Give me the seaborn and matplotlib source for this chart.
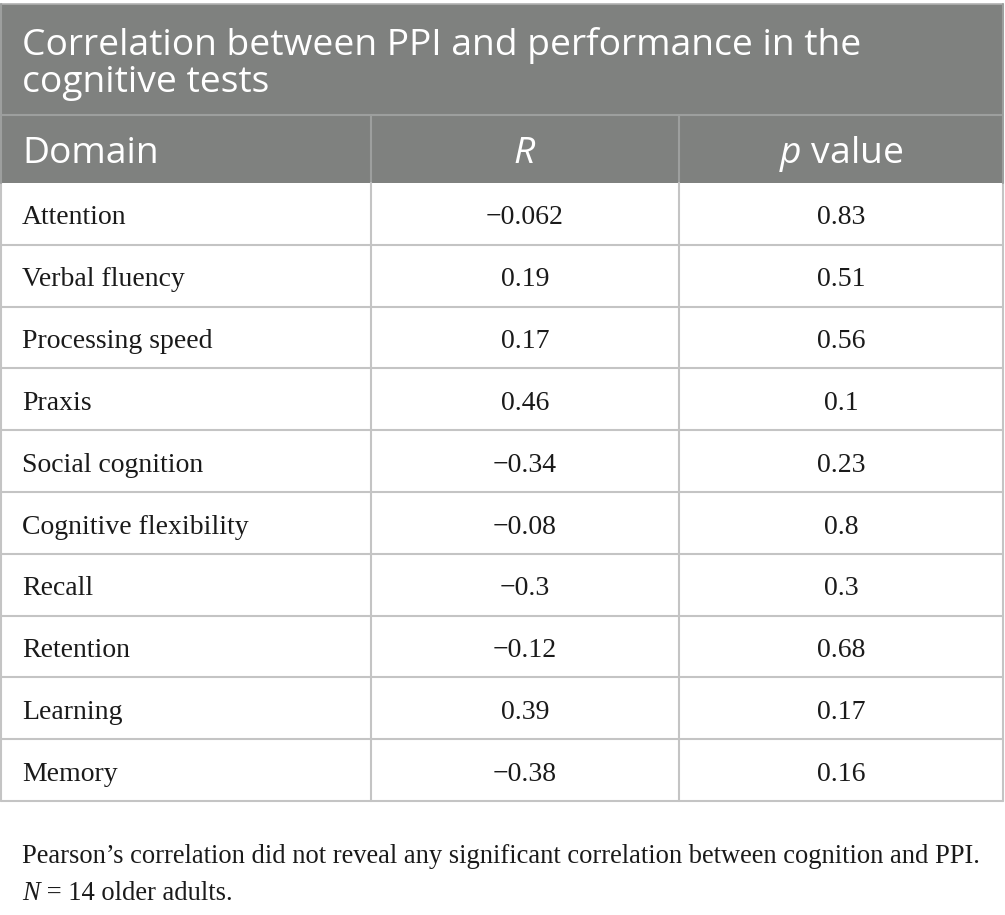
import matplotlib
matplotlib.use("Agg")
import matplotlib.pyplot as plt
import seaborn as sns

# table content
title_lines = ["Correlation between PPI and performance in the", "cognitive tests"]
col_headers = ["Domain", "$\\mathit{R}$", "$\\mathit{p}$ value"]
domains = ["Attention", "Verbal fluency", "Processing speed", "Praxis",
           "Social cognition", "Cognitive flexibility", "Recall", "Retention",
           "Learning", "Memory"]
r_values = ["\u22120.062", "0.19", "0.17", "0.46", "\u22120.34", "\u22120.08",
            "\u22120.3", "\u22120.12", "0.39", "\u22120.38"]
p_values = ["0.83", "0.51", "0.56", "0.1", "0.23", "0.8", "0.3", "0.68", "0.17", "0.16"]
footnote_1 = "Pearson\u2019s correlation did not reveal any significant correlation between cognition and PPI."
footnote_2 = ["N", " = 14 older adults."]

sns.set_theme(style="white")
plt.rcParams['mathtext.fontset'] = 'custom'
plt.rcParams['mathtext.it'] = 'Open Sans:italic'
plt.rcParams['mathtext.rm'] = 'Open Sans'

head_col = "#7f817f"
head_line = "#9d9f9e"
body_line = "#c4c4c4"
txt_col = "#1a1a1a"
font_head = "Open Sans"
font_body = "Liberation Serif"

W, H = 1005, 915
fig = plt.figure(figsize=(W / 100, H / 100), dpi=100)
ax = fig.add_axes([0, 0, 1, 1])
ax.set_xlim(0, W)
ax.set_ylim(H, 0)
ax.axis("off")

left, right = 1, 1003
top = 4
title_bot = 115
head_bot = 183
row_h = 61.8
col_x = [left, 371, 679, right]

# grey header block
ax.fill_between([left, right], top, head_bot, color=head_col, lw=0)
ax.plot([left, right], [top, top], color="#b0b0b0", lw=1.2)
ax.plot([left, right], [title_bot, title_bot], color=head_line, lw=1.5)
ax.plot([col_x[1], col_x[1]], [title_bot, head_bot], color=head_line, lw=1.5)
ax.plot([col_x[2], col_x[2]], [title_bot, head_bot], color=head_line, lw=1.5)

for i, line in enumerate(title_lines):
    ax.text(22, 55 + i * 37, line, color="white", fontsize=26.8,
            family=font_head, va="baseline", ha="left")

ax.text(22, 163, col_headers[0], color="white", fontsize=26.8,
        family=font_head, va="baseline", ha="left")
ax.text((col_x[1] + col_x[2]) / 2, 163, col_headers[1], color="white",
        fontsize=26.8, family=font_head, va="baseline", ha="center")
ax.text((col_x[2] + col_x[3]) / 2, 163, col_headers[2], color="white",
        fontsize=26.8, family=font_head, va="baseline", ha="center")

# body rows
n = len(domains)
bottom = head_bot + n * row_h
for i, (d, r, p) in enumerate(zip(domains, r_values, p_values)):
    y0 = head_bot + i * row_h
    yb = y0 + 41.5
    ax.text(22, yb, d, fontsize=20, family=font_body, va="baseline", ha="left", color=txt_col)
    ax.text((col_x[1] + col_x[2]) / 2, yb, r, fontsize=20, family=font_body,
            va="baseline", ha="center", color=txt_col)
    ax.text((col_x[2] + col_x[3]) / 2, yb, p, fontsize=20, family=font_body,
            va="baseline", ha="center", color=txt_col)
    ax.plot([left, right], [y0 + row_h, y0 + row_h], color=body_line, lw=1.5)

for x in col_x:
    ax.plot([x, x], [head_bot, bottom], color=body_line, lw=1.5)
ax.plot([left, left], [top, head_bot], color=head_line, lw=1.5)
ax.plot([right, right], [top, head_bot], color=head_line, lw=1.5)

# footnote
ax.text(22, 863, footnote_1, fontsize=19.1, family=font_body,
        va="baseline", ha="left", color=txt_col)
t_n = ax.text(22, 900, footnote_2[0], fontsize=19.1, family=font_body,
              style="italic", va="baseline", ha="left", color=txt_col)
ax.annotate(footnote_2[1], xy=(1, 0), xycoords=t_n, fontsize=19.1,
            family=font_body, va="bottom", ha="left", color=txt_col)

fig.savefig("out.png", dpi=100, facecolor="white")
